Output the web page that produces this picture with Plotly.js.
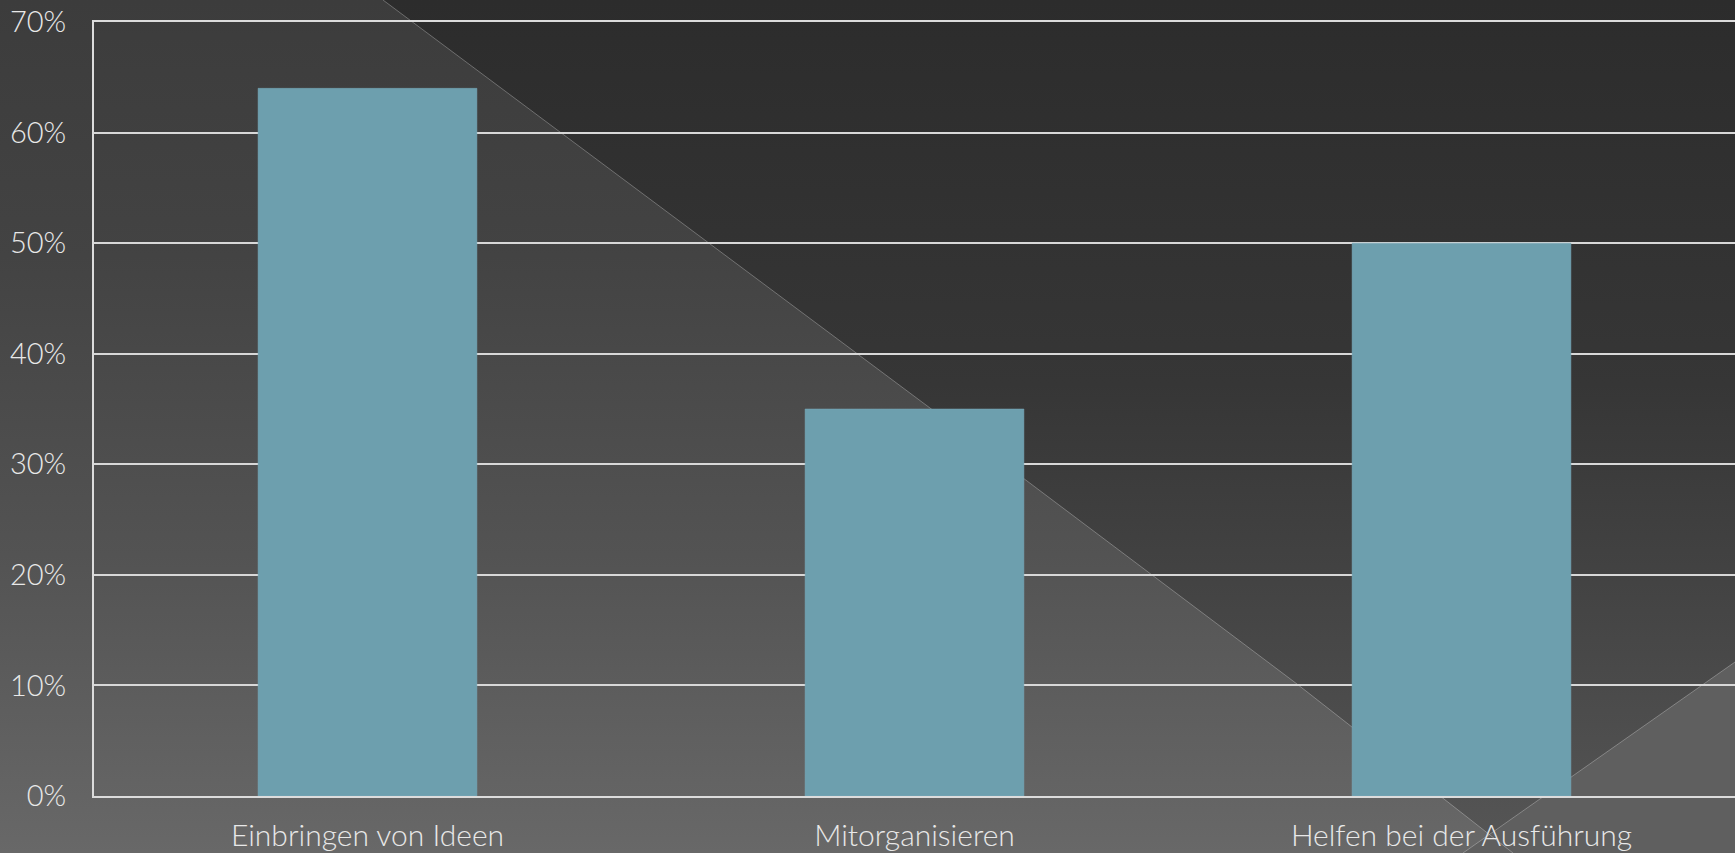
<!DOCTYPE html>
<html>
<head>
<meta charset="utf-8">
<script src="https://cdn.plot.ly/plotly-3.0.1.min.js"></script>
<style>
  html, body { margin: 0; padding: 0; width: 1735px; height: 853px; overflow: hidden; background: #3a3a3a; }
  #bg { position: absolute; left: 0; top: 0; width: 1735px; height: 853px; z-index: 0; }
  #chart { position: absolute; left: 0; top: 0; width: 1735px; height: 853px; z-index: 1; }
</style>
</head>
<body>
<svg id="bg" width="1735" height="853" viewBox="0 0 1735 853">
  <defs>
    <linearGradient id="gDark" x1="0" y1="0" x2="0" y2="1">
      <stop offset="0" stop-color="#2c2c2c"/>
      <stop offset="0.45" stop-color="#363636"/>
      <stop offset="0.7" stop-color="#444444"/>
      <stop offset="1" stop-color="#565656"/>
    </linearGradient>
    <linearGradient id="gLight" x1="0" y1="0" x2="0" y2="1">
      <stop offset="0" stop-color="#3c3c3c"/>
      <stop offset="0.3" stop-color="#434343"/>
      <stop offset="0.65" stop-color="#535353"/>
      <stop offset="1" stop-color="#686868"/>
    </linearGradient>
  </defs>
  <rect x="0" y="0" width="1735" height="853" fill="url(#gDark)"/>
  <polygon points="0,0 383,0 930,408 1297,684 1513,853 0,853" fill="url(#gLight)"/>
  <polygon points="1735,662 1735,853 1463,853" fill="#5f5f5f"/>
  <polyline points="383,0 930,408 1297,684 1513,853" fill="none" stroke="rgba(255,255,255,0.28)" stroke-width="1"/>
  <polyline points="1735,662 1463,853" fill="none" stroke="rgba(255,255,255,0.28)" stroke-width="1"/>
</svg>
<div id="chart"></div>
<script>
const categories = ["Einbringen von Ideen", "Mitorganisieren", "Helfen bei der Ausführung"];
const values = [0.64, 0.35, 0.50];
const yTickValues = [0, 0.1, 0.2, 0.3, 0.4, 0.5, 0.6, 0.7];

const trace = {
  type: "bar",
  x: categories,
  y: values,
  width: 0.4,
  marker: { color: "#6d9fae", line: { color: "#7aaaba", width: 0.5 } },
  hoverinfo: "none"
};

const layout = {
  width: 1735,
  height: 853,
  margin: { l: 94, r: 0, t: 22, b: 57, pad: 0 },
  paper_bgcolor: "rgba(0,0,0,0)",
  plot_bgcolor: "rgba(0,0,0,0)",
  showlegend: false,
  font: { family: "Lato, 'Open Sans', sans-serif", color: "#e8e8e8", size: 29, weight: 300 },
  xaxis: {
    type: "category",
    range: [-0.5, 2.5],
    showgrid: false,
    showline: true,
    mirror: true,
    linecolor: "#dcdcdc",
    linewidth: 2,
    ticks: "",
    tickfont: { size: 30, color: "#e8e8e8", weight: 300 },
    ticklabelstandoff: 12,
    zeroline: false,
    fixedrange: true
  },
  yaxis: {
    range: [0, 0.7],
    tickvals: yTickValues,
    tickformat: ".0%",
    showgrid: true,
    gridcolor: "#d8d8d8",
    gridwidth: 2,
    showline: true,
    linecolor: "#dcdcdc",
    linewidth: 2,
    zeroline: false,
    ticks: "",
    tickfont: { size: 29, color: "#e8e8e8", weight: 300 },
    ticklabelstandoff: 20,
    fixedrange: true
  },
  bargap: 0.6
};

Plotly.newPlot("chart", [trace], layout, { staticPlot: true, displayModeBar: false });
</script>
</body>
</html>
